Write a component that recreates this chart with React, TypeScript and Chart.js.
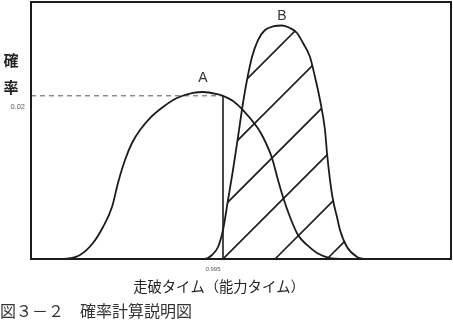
import { useEffect, useRef } from "react";
import { Chart, registerables } from "chart.js";

Chart.register(...registerables);

// ---- data ----
const xTicks = [0.995];
const yTicks = [0.02];
const threshold = 0.995;
const thresholdProb = 0.02;
const seriesNames = ["A", "B"];

const aX = [0.953, 0.956, 0.95925, 0.9625, 0.965, 0.96725, 0.96875, 0.9705, 0.97225, 0.97425, 0.97675, 0.98, 0.9835, 0.9875, 0.99, 0.9935, 0.995, 0.9975, 1.0, 1.0035, 1.005, 1.00725, 1.00875, 1.01, 1.01175, 1.01375, 1.016, 1.0185, 1.02175, 1.0255];
const aY = [0, 0.00004, 0.00049, 0.00196, 0.00392, 0.00637, 0.00932, 0.01213, 0.01422, 0.01581, 0.01728, 0.01863, 0.01973, 0.02035, 0.02047, 0.02022, 0.02, 0.01937, 0.01826, 0.01618, 0.01495, 0.01238, 0.00968, 0.0076, 0.00515, 0.00294, 0.00172, 0.00074, 0.00012, 0];

const bX = [0.98925, 0.99075, 0.99225, 0.99375, 0.995, 0.99625, 0.9975, 0.99875, 1.0, 1.001, 1.00225, 1.00375, 1.0055, 1.0075, 1.00975, 1.01175, 1.0135, 1.015, 1.01675, 1.018, 1.01925, 1.0205, 1.021, 1.02175, 1.0225, 1.0235, 1.02425, 1.026, 1.0285, 1.03];
const bY = [0, 0.00005, 0.00049, 0.00147, 0.00355, 0.00723, 0.01091, 0.01495, 0.01912, 0.02194, 0.02476, 0.02684, 0.02807, 0.0285, 0.02862, 0.02831, 0.0277, 0.02647, 0.02476, 0.02231, 0.01949, 0.01581, 0.01299, 0.00968, 0.00723, 0.00515, 0.00355, 0.00147, 0.00025, 0];

const xMin = 0.947;
const xMax = 1.052;
const yMin = 0;
const yMax = 0.0315;
const hatchStep = 0.013;

const xTitle = "走破タイム（能力タイム）";
const yTitleChars = ["確", "率"];
const caption = "図３－２　確率計算説明図";

const INK = "#1c1c1c";
const JP = "'Noto Sans CJK JP', 'Noto Sans', sans-serif";
const LAT = "'Liberation Sans', Arial, sans-serif";

const toPts = (xs: number[], ys: number[]) => xs.map((x, i) => ({ x, y: ys[i] }));

const overlay = {
  id: "overlay",
  afterDatasetsDraw(chart: any) {
    const { ctx, chartArea, scales } = chart;
    const xs = scales.x;
    const ys = scales.y;
    const meta = chart.getDatasetMeta(1);
    const line = meta.dataset;
    const pts = meta.data;
    if (!pts || !pts.length) return;
    const tx = xs.getPixelForValue(threshold);
    const by = ys.getPixelForValue(0);
    ctx.save();
    ctx.beginPath();
    ctx.rect(tx, chartArea.top, chartArea.right - tx, by - chartArea.top);
    ctx.clip();
    ctx.beginPath();
    if (line && typeof line.path === "function") {
      line.path(ctx);
    } else {
      pts.forEach((p: any, i: number) => (i ? ctx.lineTo(p.x, p.y) : ctx.moveTo(p.x, p.y)));
    }
    ctx.lineTo(pts[pts.length - 1].x, by);
    ctx.lineTo(pts[0].x, by);
    ctx.closePath();
    ctx.clip();
    const step = xs.getPixelForValue(threshold + hatchStep) - tx;
    const c0 = tx + by;
    ctx.strokeStyle = INK;
    ctx.lineWidth = 1.6;
    for (let k = -20; k <= 20; k++) {
      const c = c0 + k * step;
      ctx.beginPath();
      ctx.moveTo(c - by, by);
      ctx.lineTo(c - chartArea.top, chartArea.top);
      ctx.stroke();
    }
    ctx.restore();
  },
  afterDraw(chart: any) {
    const { ctx, chartArea } = chart;
    ctx.save();
    // frame
    ctx.strokeStyle = INK;
    ctx.lineWidth = 2;
    ctx.strokeRect(chartArea.left, chartArea.top, chartArea.right - chartArea.left, chartArea.bottom - chartArea.top);
    // series labels at peaks
    const offsets = [14, 9];
    ctx.fillStyle = "#333";
    ctx.font = `14px ${LAT}`;
    ctx.textAlign = "center";
    ctx.textBaseline = "middle";
    [0, 1].forEach((di) => {
      const m = chart.getDatasetMeta(di);
      let best: any = null;
      m.data.forEach((p: any) => {
        if (!best || p.y < best.y) best = p;
      });
      if (best) ctx.fillText(seriesNames[di], best.x, best.y - offsets[di]);
    });
    // y title
    ctx.fillStyle = "#222";
    ctx.font = `bold 15px ${JP}`;
    yTitleChars.forEach((ch, i) => {
      ctx.fillText(ch, chartArea.left - 20, chartArea.top + 58 + i * 27);
    });
    // x title
    ctx.fillStyle = "#222";
    ctx.font = `14.3px ${JP}`;
    ctx.fillText(xTitle, (chartArea.left + chartArea.right) / 2 - 22, chartArea.bottom + 28);
    ctx.restore();
  },
};

export default function App() {
  const ref = useRef<HTMLCanvasElement | null>(null);
  useEffect(() => {
    document.body.style.margin = "0";
    const canvas = ref.current;
    if (!canvas) return;
    const lineBase = {
      pointRadius: 0,
      pointHoverRadius: 0,
      fill: false,
      borderColor: INK,
      borderWidth: 1.8,
    };
    const chart = new Chart(canvas, {
      type: "line",
      data: {
        datasets: [
          { ...lineBase, label: seriesNames[0], data: toPts(aX, aY), cubicInterpolationMode: "monotone" },
          { ...lineBase, label: seriesNames[1], data: toPts(bX, bY), cubicInterpolationMode: "monotone" },
          { ...lineBase, label: "threshold", data: [{ x: threshold, y: 0 }, { x: threshold, y: thresholdProb }], borderWidth: 1.6 },
          {
            ...lineBase,
            label: "level",
            data: [{ x: xMin, y: thresholdProb }, { x: threshold, y: thresholdProb }],
            borderColor: "#555",
            borderWidth: 1,
            borderDash: [5, 4],
          },
        ],
      } as any,
      options: {
        animation: false,
        responsive: false,
        devicePixelRatio: 1,
        layout: { padding: { top: 2, right: 2, left: 0, bottom: 0 } },
        plugins: {
          legend: { display: false },
          tooltip: { enabled: false },
          title: {
            display: true,
            text: caption,
            position: "bottom",
            align: "start",
            color: "#333",
            font: { family: JP, size: 16, weight: "normal", lineHeight: 1.25 },
            padding: { top: 1, bottom: 2 },
          },
        },
        scales: {
          x: {
            type: "linear",
            min: xMin,
            max: xMax,
            grid: { display: false, drawTicks: false },
            border: { display: false },
            afterBuildTicks: (s: any) => {
              s.ticks = xTicks.map((v) => ({ value: v }));
            },
            afterFit: (s: any) => {
              s.height = 41;
              s.paddingLeft = 0;
              s.paddingRight = 0;
              s.paddingTop = 0;
              s.paddingBottom = 0;
            },
            ticks: {
              autoSkip: false,
              maxRotation: 0,
              padding: 7,
              labelOffset: -10,
              color: "#555",
              font: { family: LAT, size: 6 },
              callback: (v: any) => Number(v).toFixed(3),
            },
          },
          y: {
            type: "linear",
            min: yMin,
            max: yMax,
            grid: { display: false, drawTicks: false },
            border: { display: false },
            afterBuildTicks: (s: any) => {
              s.ticks = yTicks.map((v) => ({ value: v }));
            },
            afterFit: (s: any) => {
              s.width = 31;
              s.paddingLeft = 0;
              s.paddingRight = 0;
              s.paddingTop = 0;
              s.paddingBottom = 0;
            },
            ticks: {
              padding: 6,
              labelOffset: 11,
              color: "#555",
              font: { family: LAT, size: 7.5 },
              callback: (v: any) => Number(v).toFixed(2),
            },
          },
        },
      } as any,
      plugins: [overlay],
    });
    return () => chart.destroy();
  }, []);
  return (
    <div style={{ width: 453, height: 323 }}>
      <canvas ref={ref} width={453} height={323} style={{ display: "block" }} />
    </div>
  );
}
